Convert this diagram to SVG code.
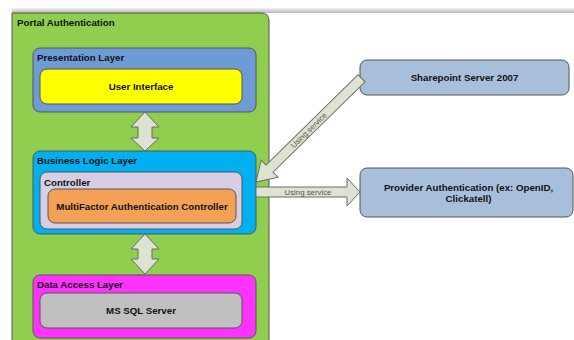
<svg xmlns="http://www.w3.org/2000/svg" width="574" height="340" viewBox="0 0 574 340">
<defs>
<linearGradient id="bar" x1="0" y1="0" x2="0" y2="1">
<stop offset="0" stop-color="#f2f2f2"/>
<stop offset="1" stop-color="#b8b8b8"/>
</linearGradient>
</defs>
<style>
.box{stroke:#555;stroke-width:1}
.t{font-family:"Liberation Sans",Arial,sans-serif;font-weight:bold;font-size:9.7px;fill:#111}
.c{text-anchor:middle}
.arrow{fill:#dde3d0;stroke:#6a6a6a;stroke-width:1}
.lbl{font-family:"Liberation Sans",Arial,sans-serif;font-size:7.8px;fill:#555;text-anchor:middle}
</style>
<rect x="0" y="0" width="574" height="340" fill="#ffffff"/>
<rect x="12" y="8" width="562" height="5" fill="url(#bar)"/>
<g id="portal">
<path class="box" d="M12,13 H261 Q269,13 269,21 V345 H12 Z" fill="#8fce4e"/>
<text class="t" x="17" y="26">Portal Authentication</text>
</g>
<g id="presentation">
<rect class="box" x="33" y="48" width="223" height="64" rx="7" fill="#6e9ad6"/>
<text class="t" x="37" y="61">Presentation Layer</text>
</g>
<g id="ui">
<rect class="box" x="40" y="69" width="202" height="35" rx="7" fill="#ffff00"/>
<text class="t c" x="141" y="89.5">User Interface</text>
</g>
<g id="business">
<rect class="box" x="33" y="151" width="223" height="83" rx="7" fill="#00b0f0"/>
<text class="t" x="37" y="163.5">Business Logic Layer</text>
</g>
<g id="controller">
<rect class="box" x="40" y="172" width="202" height="57" rx="7" fill="#d6cfe4"/>
<text class="t" x="44" y="185.5">Controller</text>
</g>
<g id="mfa">
<rect class="box" x="48" y="189" width="188" height="34" rx="7" fill="#f4a155"/>
<text class="t c" x="142" y="209.5">MultiFactor Authentication Controller</text>
</g>
<g id="dataaccess">
<rect class="box" x="33" y="275" width="223" height="63" rx="7" fill="#ff33ff"/>
<text class="t" x="37" y="287.5">Data Access Layer</text>
</g>
<g id="mssql">
<rect class="box" x="40" y="293" width="202" height="35" rx="7" fill="#c0c0c0"/>
<text class="t c" x="141" y="313.5">MS SQL Server</text>
</g>
<g id="sharepoint">
<rect class="box" x="360" y="60" width="209" height="35" rx="7" fill="#a8bfdc"/>
<text class="t c" x="464.5" y="81">Sharepoint Server 2007</text>
</g>
<g id="provider">
<rect class="box" x="360" y="168" width="213" height="49" rx="7" fill="#a8bfdc"/>
<text class="t c" x="468.5" y="190.5">Provider Authentication (ex: OpenID,</text>
<text class="t c" x="468.5" y="201.5">Clickatell)</text>
</g>
<g id="connectors">
<polygon class="arrow" points="145,112 159,127 152,127 152,138 159,138 145,151 131,138 138,138 138,127 131,127"/>
<polygon class="arrow" points="145,234 159,249 152,249 152,259 159,259 145,274 131,259 138,259 138,249 131,249"/>
<g transform="translate(256,182) rotate(-44.5)">
<polygon class="arrow" points="0,0 19,-12 19,-5 148,-5 148,5 19,5 19,12"/>
<text class="lbl" x="74" y="2.8">Using service</text>
</g>
<polygon class="arrow" points="256,187 347,187 347,178 360,192 347,206 347,197 256,197"/>
<text class="lbl" x="308" y="194.8">Using service</text>
</g>
</svg>
